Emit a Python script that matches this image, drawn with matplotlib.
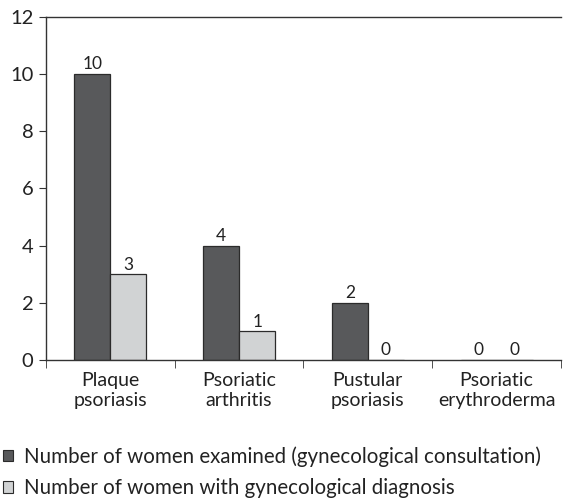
import matplotlib

matplotlib.use("Agg")
import matplotlib.pyplot as plt
import numpy as np
from matplotlib.patches import Patch

plt.rcParams["font.family"] = ["Lato", "DejaVu Sans"]

categories = ["Plaque\npsoriasis", "Psoriatic\narthritis", "Pustular\npsoriasis", "Psoriatic\nerythroderma"]
examined = [10, 4, 2, 0]
diagnosed = [3, 1, 0, 0]
legend_labels = [
    "Number of women examined (gynecological consultation)",
    "Number of women with gynecological diagnosis",
]

DARK = "#58595b"
LIGHT = "#d1d3d4"
EDGE = "#2b2b2b"

fig = plt.figure(figsize=(5.70, 4.99), dpi=100)
ax = fig.add_axes([0.0807, 0.2786, 0.9035, 0.6874])

x = np.arange(len(categories))
width = 0.28
bars1 = ax.bar(x - width / 2, examined, width, color=DARK, edgecolor=EDGE, linewidth=0.9)
bars2 = ax.bar(x + width / 2, diagnosed, width, color=LIGHT, edgecolor=EDGE, linewidth=0.9)

for bars, vals in ((bars1, examined), (bars2, diagnosed)):
    for b, v in zip(bars, vals):
        ax.text(b.get_x() + b.get_width() / 2, v + 0.06, f"{v}",
                ha="center", va="bottom", fontsize=12.5, color="#222222")

ax.set_xlim(-0.5, len(categories) - 0.5)
ax.set_ylim(0, 12)
ax.set_yticks(range(0, 13, 2))
ax.set_xticks(x)
ax.set_xticklabels(categories, fontsize=14, color="#222222", linespacing=1.2)
ax.set_xticks(np.arange(-0.5, len(categories), 1), minor=True)
ax.tick_params(axis="x", which="major", length=0, pad=9)
ax.tick_params(axis="x", which="minor", length=6, direction="out", color="#333333")
ax.tick_params(axis="y", length=5, direction="out", color="#333333", labelsize=14.5,
               labelcolor="#222222", pad=4)

for side in ("left", "top", "bottom"):
    ax.spines[side].set_color("#333333")
    ax.spines[side].set_linewidth(1.0)
ax.spines["right"].set_visible(False)

handles = [
    Patch(facecolor=DARK, edgecolor=EDGE, linewidth=0.8),
    Patch(facecolor=LIGHT, edgecolor=EDGE, linewidth=0.8),
]
fig.legend(handles, legend_labels, loc="upper left", bbox_to_anchor=(-0.028, 0.143),
           frameon=False, fontsize=14.8, handlelength=0.5, handleheight=0.5,
           handletextpad=0.55, labelspacing=0.55, labelcolor="#222222")

fig.savefig("out.png", dpi=100)
